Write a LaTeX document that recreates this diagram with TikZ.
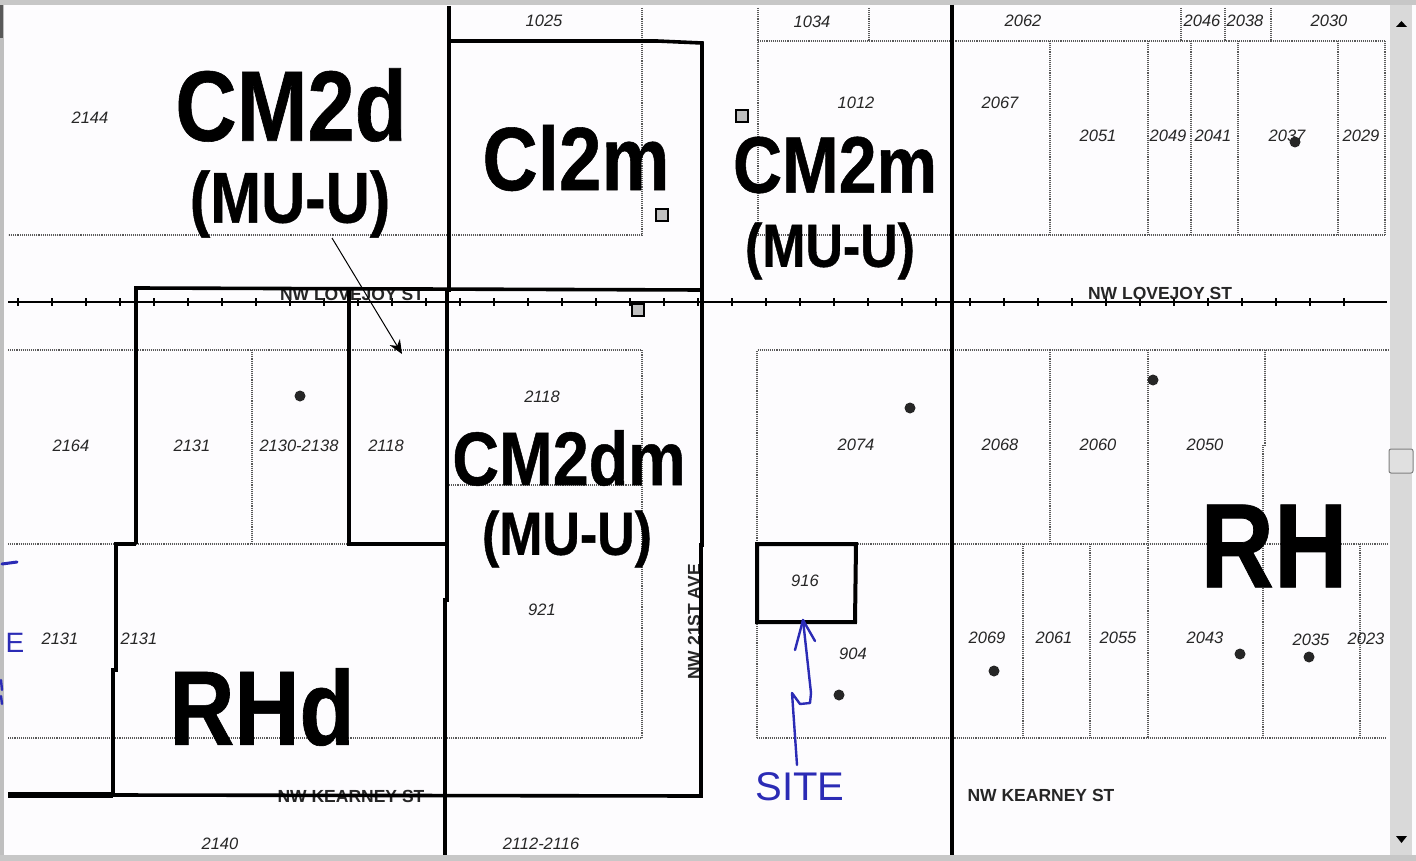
\documentclass[tikz,border=0pt]{standalone}
\usepackage{
    fontspec,       % For Arial-like lettering
}
\usetikzlibrary{
    arrows.meta,
}
\setmainfont{Liberation Sans}
\newfontfamily\zonefont[FakeStretch=0.85,BoldFeatures={FakeBold=0.6}]{Liberation Sans}
\newcommand{\zonesize}[1]{\zonefont\bfseries\fontsize{#1}{#1}\selectfont}
\definecolor{inkblue}{HTML}{2B2BB5}
\definecolor{paper}{HTML}{FDFCFE}
\tikzstyle{lot} = [draw=black!65, line width=1.1pt, densely dotted]
\tikzstyle{zoneline} = [draw, line width=3.6pt, line join=miter]
\tikzstyle{ink} = [draw=inkblue, line width=2.4pt, line cap=round, line join=round]
\tikzstyle{zone} = [inner sep=0pt, text=black]
\tikzstyle{lotnum} = [inner sep=0pt, text=black!85, font=\fontsize{16.5}{16.5}\selectfont\itshape]
\tikzstyle{street} = [inner sep=0pt, text=black!85, font=\fontsize{17.5}{17.5}\selectfont\bfseries]
\tikzstyle{tree} = [circle, fill=black!85, inner sep=0pt, minimum size=11pt]
\tikzstyle{marker} = [rectangle, draw, line width=2pt, fill=black!25, inner sep=0pt, minimum size=12pt]
\begin{document}
\begin{tikzpicture}[x=1pt, y=-1pt]
        \useasboundingbox (0,0) rectangle (1416,861);
        % Window and scan background
        \fill [paper] (0,0) rectangle (1416,861);
        \fill [black!22] (0,0) rectangle (1416,5);
        \fill [black!22] (0,855) rectangle (1416,861);
        \fill [black!15] (1390,5) rectangle (1412,855);
        \fill [black!25] (0,5) rectangle (4,855);
        \fill [black!65] (0,5) rectangle (3,38);
        \path [draw=black!50, fill=black!12, line width=1pt, rounded corners=2pt] (1389,449) rectangle (1413,473);
        \fill [black] (1396,27) -- (1407,27) -- (1401.5,21) -- cycle;
        \fill [black] (1396,836) -- (1407,836) -- (1401.5,843) -- cycle;
        % Place lot lines
        \path [lot] (642,8) -- (642,235) -- (8,235);
        \path [lot] (449,41) -- (642,41);
        \path [lot] (758,8) -- (758,235);
        \path [lot] (758,41) -- (1385,41);
        \path [lot] (758,235) -- (1385,235);
        \path [lot] (869,8) -- (869,41);
        \path [lot] (1181,8) -- (1181,41);
        \path [lot] (1225,8) -- (1225,41);
        \path [lot] (1271,8) -- (1271,41);
        \path [lot] (1050,41) -- (1050,235);
        \path [lot] (1148,41) -- (1148,235);
        \path [lot] (1191,41) -- (1191,235);
        \path [lot] (1238,41) -- (1238,235);
        \path [lot] (1338,41) -- (1338,235);
        \path [lot] (1385,41) -- (1385,235);
        \path [lot] (8,350) -- (642,350) -- (642,738) -- (8,738);
        \path [lot] (8,544) -- (448,544);
        \path [lot] (449,485) -- (642,485);
        \path [lot] (252,350) -- (252,544);
        \path [lot] (757,738) -- (757,350) -- (1388,350);
        \path [lot] (757,544) -- (1388,544);
        \path [lot] (757,738) -- (1385,738);
        \path [lot] (1050,350) -- (1050,544);
        \path [lot] (1148,350) -- (1148,738);
        \path [lot] (1265,350) -- (1265,445);
        \path [lot] (1263,445) -- (1263,738);
        \path [lot] (1023,544) -- (1023,738);
        \path [lot] (1090,544) -- (1090,738);
        \path [lot] (1360,544) -- (1360,738);
        % Street centre line
        \path [draw, line width=1.2pt] (8,302) -- (1387,302);
        \foreach \tickx in {18,52,...,1368}
            \path [draw, line width=1.2pt] (\tickx,298) -- (\tickx,306);
        % Place street names
        \node [street] (lovejoy_w) at (352,294) {NW LOVEJOY ST};
        \node [street] (lovejoy_e) at (1160,293) {NW LOVEJOY ST};
        \node [street] (kearney_w) at (351,796) {NW KEARNEY ST};
        \node [street] (kearney_e) at (1041,795) {NW KEARNEY ST};
        \node [street, rotate=90] (ave) at (694,622) {NW 21ST AVE};
        % Draw zone boundaries
        \path [zoneline] (449,6) -- (449,290) -- (447,290) -- (447,600) -- (445,600) -- (445,855);
        \path [zoneline] (952,5) -- (952,855);
        \path [zoneline] (449,41) -- (657,41) -- (702,43) -- (702,290);
        \path [zoneline] (136,544) -- (136,288) -- (702,290) -- (702,545) -- (701,545) -- (701,796) -- (113,795);
        \path [zoneline] (136,544) -- (116,544) -- (116,670) -- (113,670) -- (113,795);
        \path [zoneline, line width=5.5pt] (8,795) -- (113,795);
        \path [zoneline] (349,290) -- (349,544) -- (447,544);
        \path [zoneline, line width=4pt] (757,544) -- (856,544) -- (855,622) -- (757,622) -- cycle;
        % Place zone names
        \node [zone, font=\zonesize{100}] (cm2d) at (291,105) {CM2d};
        \node [zone, font=\zonesize{72}] (cm2d_mu) at (290,204) {(MU-U)};
        \node [zone, font=\zonesize{90}] (cl2m) at (576,158) {Cl2m};
        \node [zone, font=\zonesize{80}] (cm2m) at (835,165) {CM2m};
        \node [zone, font=\zonesize{61}] (cm2m_mu) at (830,251) {(MU-U)};
        \node [zone, font=\zonesize{76}] (cm2dm) at (569,458) {CM2dm};
        \node [zone, font=\zonesize{61}] (cm2dm_mu) at (567,539) {(MU-U)};
        \node [zone, font=\zonesize{106}] (rhd) at (262,707) {RHd};
        \node [zone, font=\zonesize{120}] (rh) at (1274,546) {RH};
        % Place lot numbers
        \node [lotnum] (lot_1025) at (544,21) {1025};
        \node [lotnum] (lot_1034) at (812,22) {1034};
        \node [lotnum] (lot_2062) at (1023,21) {2062};
        \node [lotnum] (lot_2046) at (1202,21) {2046};
        \node [lotnum] (lot_2038) at (1245,21) {2038};
        \node [lotnum] (lot_2030) at (1329,21) {2030};
        \node [lotnum] (lot_2144) at (90,118) {2144};
        \node [lotnum] (lot_1012) at (856,103) {1012};
        \node [lotnum] (lot_2067) at (1000,103) {2067};
        \node [lotnum] (lot_2051) at (1098,136) {2051};
        \node [lotnum] (lot_2049) at (1168,136) {2049};
        \node [lotnum] (lot_2041) at (1213,136) {2041};
        \node [lotnum] (lot_2037) at (1287,136) {2037};
        \node [lotnum] (lot_2029) at (1361,136) {2029};
        \node [lotnum] (lot_2118_a) at (542,397) {2118};
        \node [lotnum] (lot_2164) at (71,446) {2164};
        \node [lotnum] (lot_2131_a) at (192,446) {2131};
        \node [lotnum] (lot_2130) at (299,446) {2130-2138};
        \node [lotnum] (lot_2118_b) at (386,446) {2118};
        \node [lotnum] (lot_2074) at (856,445) {2074};
        \node [lotnum] (lot_2068) at (1000,445) {2068};
        \node [lotnum] (lot_2060) at (1098,445) {2060};
        \node [lotnum] (lot_2050) at (1205,445) {2050};
        \node [lotnum] (lot_921) at (542,610) {921};
        \node [lotnum] (lot_916) at (805,581) {916};
        \node [lotnum] (lot_904) at (853,654) {904};
        \node [lotnum] (lot_2069) at (987,638) {2069};
        \node [lotnum] (lot_2061) at (1054,638) {2061};
        \node [lotnum] (lot_2055) at (1118,638) {2055};
        \node [lotnum] (lot_2043) at (1205,638) {2043};
        \node [lotnum] (lot_2035) at (1311,640) {2035};
        \node [lotnum] (lot_2023) at (1366,639) {2023};
        \node [lotnum] (lot_2131_b) at (60,639) {2131};
        \node [lotnum] (lot_2131_c) at (139,639) {2131};
        \node [lotnum] (lot_2140) at (220,844) {2140};
        \node [lotnum] (lot_2112) at (541,844) {2112-2116};
        % Place trees and markers
        \node [tree] (tree_a) at (300,396) {};
        \node [tree] (tree_b) at (910,408) {};
        \node [tree] (tree_c) at (1153,380) {};
        \node [tree] (tree_d) at (1295,142) {};
        \node [tree] (tree_e) at (994,671) {};
        \node [tree] (tree_f) at (1240,654) {};
        \node [tree] (tree_g) at (1309,657) {};
        \node [tree] (tree_h) at (839,695) {};
        \node [marker] (marker_a) at (662,215) {};
        \node [marker] (marker_b) at (638,310) {};
        \node [marker] (marker_c) at (742,116) {};
        % Draw pointer to the lot
        \coordinate (pointer_from) at (332,238);
        \coordinate (pointer_to) at (402,354);
        \path [-{Stealth[length=14pt,width=12pt]}, draw, line width=1pt] (pointer_from) -- (pointer_to);
        % Handwritten site note
        \node [inner sep=0pt, text=inkblue, font=\fontsize{40}{40}\selectfont] (site) at (800,787) {SITE};
        \coordinate (site_tail) at (797,765);
        \coordinate (site_tip) at (803,620);
        \path [ink] (site_tail) -- (792,693) -- (800,704) -- (810,703) -- (811,693) -- (site_tip);
        \path [ink] (795,650) -- (site_tip) -- (815,641);
        \node [inner sep=0pt, text=inkblue, font=\fontsize{28}{28}\selectfont] (edge_e) at (15,643) {E};
        \path [ink, line width=3pt] (2,564) -- (17,562);
        \path [ink] (1,680) -- (2,690);
        \path [ink] (1,696) -- (2,704);
    \end{tikzpicture}
\end{document}
